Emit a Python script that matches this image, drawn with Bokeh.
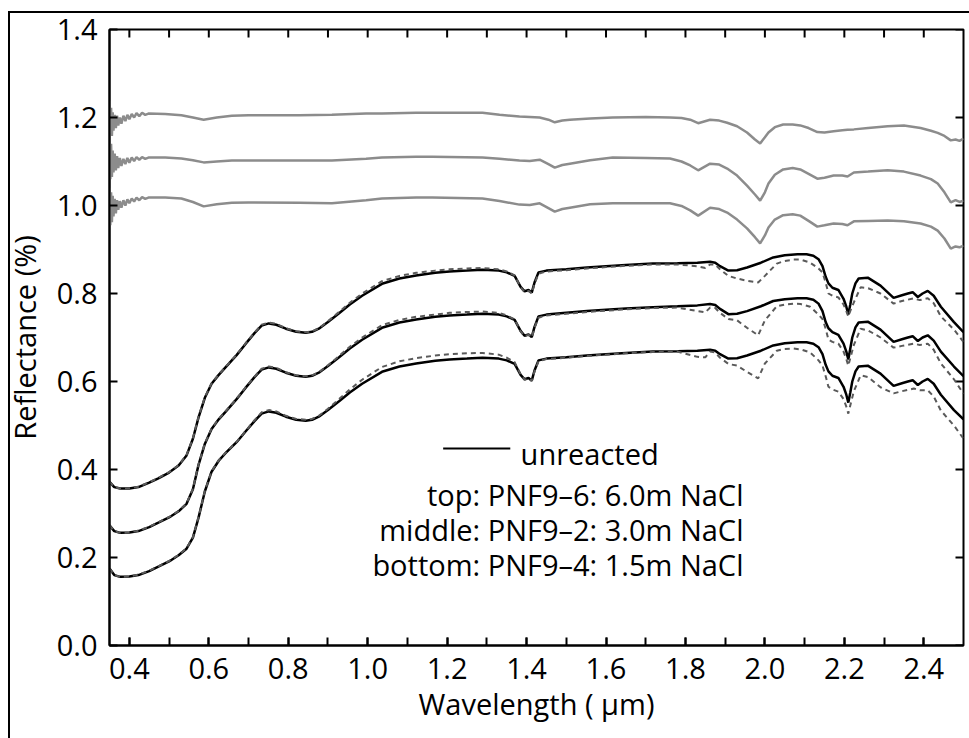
import math
from bokeh.plotting import figure
from bokeh.models import Range1d, FixedTicker, PrintfTickFormatter
from bokeh.core.properties import value
from bokeh.embed import file_html
from bokeh.resources import INLINE

FONT = "Open Sans"

# ---------------- data ----------------
x_unreacted = [0.350, 0.362, 0.377, 0.400, 0.423, 0.450, 0.473, 0.500, 0.524, 0.544,
               0.560, 0.574, 0.590, 0.607, 0.625, 0.642, 0.670, 0.693, 0.715, 0.733,
               0.751, 0.770, 0.794, 0.820, 0.844, 0.860, 0.877, 0.900, 0.928, 0.955,
               0.986, 1.036, 1.080, 1.122, 1.170, 1.206, 1.250, 1.289, 1.330, 1.350,
               1.370, 1.385, 1.395, 1.405, 1.413, 1.420, 1.430, 1.450, 1.500, 1.552,
               1.600, 1.650, 1.718, 1.780, 1.830, 1.862, 1.875, 1.887, 1.908, 1.930,
               1.955, 1.990, 2.021, 2.050, 2.082, 2.105, 2.122, 2.135, 2.145, 2.153,
               2.160, 2.170, 2.185, 2.198, 2.205, 2.210, 2.215, 2.220, 2.228, 2.236,
               2.259, 2.291, 2.324, 2.345, 2.360, 2.372, 2.385, 2.397, 2.410, 2.425,
               2.443, 2.476, 2.500]

unreacted_top = [0.372, 0.360, 0.357, 0.357, 0.360, 0.370, 0.380, 0.393, 0.409, 0.432,
                 0.470, 0.518, 0.563, 0.595, 0.615, 0.632, 0.660, 0.686, 0.710, 0.727,
                 0.732, 0.729, 0.720, 0.713, 0.711, 0.713, 0.720, 0.735, 0.755, 0.775,
                 0.795, 0.822, 0.834, 0.841, 0.847, 0.850, 0.852, 0.854, 0.852, 0.848,
                 0.840, 0.815, 0.805, 0.808, 0.802, 0.825, 0.848, 0.852, 0.855, 0.859,
                 0.862, 0.865, 0.868, 0.869, 0.870, 0.872, 0.870, 0.862, 0.852, 0.853,
                 0.859, 0.870, 0.882, 0.887, 0.889, 0.889, 0.886, 0.878, 0.862, 0.838,
                 0.823, 0.813, 0.808, 0.788, 0.770, 0.752, 0.775, 0.800, 0.823, 0.834,
                 0.836, 0.818, 0.790, 0.796, 0.800, 0.803, 0.792, 0.800, 0.806, 0.795,
                 0.770, 0.735, 0.712]

unreacted_mid = [0.273, 0.260, 0.256, 0.257, 0.260, 0.269, 0.279, 0.291, 0.305, 0.322,
                 0.355, 0.410, 0.458, 0.492, 0.514, 0.531, 0.560, 0.586, 0.610, 0.627,
                 0.632, 0.629, 0.620, 0.613, 0.611, 0.613, 0.620, 0.635, 0.655, 0.675,
                 0.695, 0.722, 0.734, 0.741, 0.747, 0.750, 0.752, 0.754, 0.752, 0.748,
                 0.740, 0.715, 0.704, 0.707, 0.701, 0.724, 0.748, 0.752, 0.756, 0.760,
                 0.763, 0.766, 0.769, 0.771, 0.773, 0.776, 0.774, 0.765, 0.753, 0.754,
                 0.760, 0.771, 0.783, 0.787, 0.789, 0.789, 0.786, 0.777, 0.760, 0.735,
                 0.721, 0.712, 0.706, 0.686, 0.668, 0.650, 0.675, 0.700, 0.723, 0.734,
                 0.736, 0.718, 0.690, 0.696, 0.700, 0.703, 0.692, 0.700, 0.705, 0.693,
                 0.668, 0.634, 0.612]

unreacted_bot = [0.175, 0.160, 0.156, 0.157, 0.160, 0.169, 0.179, 0.191, 0.205, 0.220,
                 0.245, 0.290, 0.350, 0.395, 0.420, 0.437, 0.462, 0.487, 0.510, 0.527,
                 0.532, 0.529, 0.520, 0.513, 0.511, 0.513, 0.520, 0.535, 0.555, 0.575,
                 0.595, 0.622, 0.634, 0.641, 0.647, 0.650, 0.652, 0.654, 0.652, 0.648,
                 0.640, 0.615, 0.605, 0.608, 0.602, 0.625, 0.648, 0.652, 0.655, 0.659,
                 0.662, 0.665, 0.668, 0.669, 0.670, 0.672, 0.670, 0.662, 0.652, 0.653,
                 0.659, 0.670, 0.682, 0.687, 0.689, 0.689, 0.686, 0.678, 0.662, 0.638,
                 0.623, 0.613, 0.608, 0.588, 0.570, 0.552, 0.575, 0.600, 0.623, 0.634,
                 0.636, 0.618, 0.590, 0.596, 0.600, 0.603, 0.592, 0.600, 0.606, 0.595,
                 0.570, 0.535, 0.514]

x_reacted = [0.350, 0.362, 0.377, 0.400, 0.423, 0.450, 0.473, 0.500, 0.524, 0.544,
             0.560, 0.574, 0.590, 0.607, 0.625, 0.642, 0.670, 0.693, 0.715, 0.733,
             0.751, 0.770, 0.794, 0.820, 0.844, 0.860, 0.877, 0.900, 0.928, 0.955,
             0.986, 1.036, 1.080, 1.122, 1.170, 1.206, 1.250, 1.289, 1.330, 1.350,
             1.370, 1.385, 1.395, 1.405, 1.413, 1.420, 1.430, 1.450, 1.500, 1.552,
             1.600, 1.650, 1.718, 1.780, 1.830, 1.850, 1.862, 1.875, 1.887, 1.908,
             1.930, 1.955, 1.983, 2.000, 2.030, 2.050, 2.072, 2.090, 2.114, 2.135,
             2.145, 2.153, 2.160, 2.170, 2.185, 2.198, 2.205, 2.210, 2.217, 2.224,
             2.241, 2.260, 2.291, 2.324, 2.345, 2.375, 2.390, 2.410, 2.425, 2.443,
             2.476, 2.500]

reacted_top = [0.372, 0.360, 0.357, 0.357, 0.361, 0.371, 0.381, 0.394, 0.410, 0.433,
               0.471, 0.519, 0.564, 0.596, 0.616, 0.633, 0.661, 0.687, 0.711, 0.729,
               0.734, 0.731, 0.721, 0.714, 0.712, 0.714, 0.721, 0.737, 0.758, 0.779,
               0.800, 0.828, 0.840, 0.847, 0.852, 0.855, 0.857, 0.858, 0.855, 0.850,
               0.841, 0.814, 0.803, 0.806, 0.800, 0.822, 0.845, 0.850, 0.853, 0.857,
               0.860, 0.863, 0.866, 0.866, 0.862, 0.858, 0.866, 0.866, 0.855, 0.840,
               0.834, 0.829, 0.825, 0.840, 0.868, 0.874, 0.877, 0.877, 0.870, 0.857,
               0.848, 0.825, 0.800, 0.795, 0.791, 0.775, 0.760, 0.748, 0.765, 0.780,
               0.814, 0.812, 0.800, 0.777, 0.783, 0.789, 0.785, 0.789, 0.778, 0.748,
               0.718, 0.690]

reacted_mid = [0.273, 0.260, 0.256, 0.257, 0.261, 0.270, 0.280, 0.292, 0.306, 0.323,
               0.356, 0.411, 0.459, 0.493, 0.515, 0.532, 0.561, 0.587, 0.611, 0.629,
               0.634, 0.631, 0.621, 0.614, 0.612, 0.614, 0.621, 0.637, 0.658, 0.679,
               0.700, 0.728, 0.740, 0.747, 0.752, 0.756, 0.758, 0.759, 0.756, 0.750,
               0.741, 0.714, 0.703, 0.706, 0.700, 0.722, 0.745, 0.750, 0.754, 0.758,
               0.761, 0.764, 0.767, 0.768, 0.760, 0.757, 0.768, 0.767, 0.756, 0.742,
               0.739, 0.722, 0.705, 0.739, 0.771, 0.775, 0.777, 0.776, 0.770, 0.752,
               0.742, 0.720, 0.695, 0.690, 0.686, 0.668, 0.651, 0.636, 0.660, 0.683,
               0.720, 0.716, 0.700, 0.677, 0.681, 0.686, 0.683, 0.686, 0.672, 0.641,
               0.605, 0.572]

reacted_bot = [0.175, 0.160, 0.156, 0.157, 0.161, 0.170, 0.180, 0.192, 0.206, 0.221,
               0.246, 0.291, 0.351, 0.396, 0.421, 0.438, 0.463, 0.488, 0.512, 0.530,
               0.535, 0.532, 0.522, 0.515, 0.513, 0.515, 0.522, 0.538, 0.560, 0.582,
               0.604, 0.633, 0.646, 0.653, 0.659, 0.662, 0.664, 0.665, 0.661, 0.654,
               0.644, 0.616, 0.604, 0.607, 0.601, 0.623, 0.646, 0.651, 0.654, 0.658,
               0.661, 0.664, 0.667, 0.668, 0.656, 0.655, 0.668, 0.666, 0.654, 0.640,
               0.636, 0.622, 0.607, 0.641, 0.670, 0.674, 0.675, 0.673, 0.666, 0.648,
               0.636, 0.612, 0.588, 0.582, 0.577, 0.560, 0.543, 0.527, 0.553, 0.578,
               0.614, 0.610, 0.587, 0.573, 0.578, 0.584, 0.580, 0.580, 0.566, 0.534,
               0.500, 0.470]

x_offset = [0.350, 0.352, 0.354, 0.356, 0.358, 0.360, 0.363, 0.366, 0.369, 0.372,
            0.376, 0.380, 0.385, 0.390, 0.395, 0.400, 0.406, 0.412, 0.418, 0.425,
            0.432, 0.440, 0.448,
            0.490, 0.531, 0.560, 0.587, 0.620, 0.658, 0.700, 0.827, 0.910, 0.996,
            1.036, 1.122, 1.163, 1.289, 1.332, 1.382, 1.408, 1.433, 1.455, 1.471,
            1.490, 1.509, 1.560, 1.617, 1.700, 1.761, 1.790, 1.812, 1.832, 1.862,
            1.885, 1.905, 1.930, 1.955, 1.975, 1.988, 2.000, 2.009, 2.025, 2.046,
            2.070, 2.089, 2.110, 2.132, 2.150, 2.173, 2.195, 2.208, 2.224, 2.260,
            2.309, 2.350, 2.392, 2.418, 2.435, 2.452, 2.468, 2.480, 2.490, 2.500]

offset_top = [1.238, 1.165, 1.222, 1.158, 1.212, 1.170, 1.206, 1.176, 1.204, 1.182,
              1.200, 1.186, 1.204, 1.192, 1.206, 1.196, 1.208, 1.200, 1.210, 1.203,
              1.211, 1.206, 1.209,
              1.208, 1.205, 1.200, 1.195, 1.200, 1.204, 1.205, 1.205, 1.206, 1.209,
              1.209, 1.211, 1.211, 1.211, 1.206, 1.202, 1.201, 1.200, 1.195, 1.189,
              1.193, 1.195, 1.198, 1.200, 1.201, 1.200, 1.199, 1.195, 1.187, 1.195,
              1.193, 1.188, 1.180, 1.166, 1.150, 1.141, 1.155, 1.166, 1.178, 1.184,
              1.184, 1.182, 1.176, 1.167, 1.166, 1.169, 1.171, 1.172, 1.173, 1.176,
              1.180, 1.182, 1.176, 1.170, 1.165, 1.158, 1.148, 1.150, 1.147, 1.152]

offset_mid = [1.160, 1.060, 1.140, 1.065, 1.125, 1.075, 1.118, 1.080, 1.112, 1.085,
              1.108, 1.090, 1.106, 1.094, 1.108, 1.097, 1.109, 1.101, 1.110, 1.104,
              1.110, 1.106, 1.109,
              1.109, 1.107, 1.103, 1.098, 1.100, 1.102, 1.102, 1.102, 1.102, 1.106,
              1.109, 1.111, 1.111, 1.109, 1.106, 1.102, 1.101, 1.104, 1.094, 1.086,
              1.092, 1.095, 1.103, 1.109, 1.108, 1.107, 1.100, 1.091, 1.080, 1.095,
              1.093, 1.084, 1.068, 1.045, 1.025, 1.011, 1.030, 1.050, 1.070, 1.082,
              1.085, 1.082, 1.072, 1.061, 1.063, 1.068, 1.068, 1.066, 1.075, 1.077,
              1.080, 1.077, 1.068, 1.060, 1.050, 1.030, 1.007, 1.012, 1.008, 1.011]

offset_bot = [1.040, 0.955, 1.030, 0.962, 1.022, 0.975, 1.015, 0.982, 1.012, 0.990,
              1.010, 0.995, 1.012, 1.000, 1.014, 1.005, 1.016, 1.009, 1.018, 1.012,
              1.019, 1.015, 1.018,
              1.018, 1.016, 1.008, 0.998, 1.003, 1.006, 1.007, 1.006, 1.005, 1.012,
              1.016, 1.018, 1.018, 1.016, 1.010, 1.002, 1.001, 1.005, 0.994, 0.986,
              0.992, 0.995, 1.003, 1.005, 1.005, 1.005, 0.999, 0.989, 0.977, 0.995,
              0.992, 0.984, 0.968, 0.948, 0.928, 0.914, 0.932, 0.950, 0.968, 0.978,
              0.980, 0.977, 0.965, 0.952, 0.955, 0.959, 0.958, 0.955, 0.964, 0.965,
              0.966, 0.964, 0.959, 0.952, 0.943, 0.925, 0.902, 0.907, 0.905, 0.909]

x_major_ticks = [0.4, 0.6, 0.8, 1.0, 1.2, 1.4, 1.6, 1.8, 2.0, 2.2, 2.4]
x_minor_ticks = [0.4, 0.5, 0.6, 0.7, 0.8, 0.9, 1.0, 1.1, 1.2, 1.3, 1.4, 1.5,
                 1.6, 1.7, 1.8, 1.9, 2.0, 2.1, 2.2, 2.3, 2.4]
y_ticks = [0.0, 0.2, 0.4, 0.6, 0.8, 1.0, 1.2, 1.4]

legend_lines = ["top: PNF9\u20136: 6.0m NaCl",
                "middle: PNF9\u20132: 3.0m NaCl",
                "bottom: PNF9\u20134: 1.5m NaCl"]
legend_key_label = "unreacted"

X_START, X_END = 0.35, 2.5
Y_START, Y_END = 0.0, 1.4

# ---------------- figure ----------------
p = figure(width=969, height=738, output_backend="svg", toolbar_location=None,
           x_range=Range1d(X_START, X_END), y_range=Range1d(Y_START, Y_END),
           min_border_left=109, min_border_right=6, min_border_top=29, min_border_bottom=93)
# page frame (black rule on the left and top, cut by the window on the right/bottom),
# drawn as inset shadows on the figure host behind a transparent canvas border
p.styles = {"box-shadow": "inset 8px 11px 0 0 white, inset 10px 13px 0 0 black"}
p.border_fill_color = None
p.grid.visible = False
p.outline_line_color = "black"
p.outline_line_width = 2
p.background_fill_color = "white"

def style_axis(ax):
    ax.axis_line_color = "black"
    ax.axis_line_width = 2
    ax.major_tick_in = 8
    ax.major_tick_out = 0
    ax.minor_tick_in = 8
    ax.minor_tick_out = 0
    ax.major_tick_line_width = 2
    ax.minor_tick_line_width = 2
    ax.major_tick_line_color = "black"
    ax.minor_tick_line_color = "black"
    ax.major_label_text_font = FONT
    ax.major_label_text_font_size = "29px"
    ax.major_label_text_color = "black"
    ax.axis_label_text_font = FONT
    ax.axis_label_text_font_size = "29px"
    ax.axis_label_text_font_style = "normal"
    ax.axis_label_text_color = "black"

xa = p.xaxis[0]
xa.ticker = FixedTicker(ticks=x_major_ticks, minor_ticks=x_minor_ticks)
xa.formatter = PrintfTickFormatter(format="%.1f")
xa.axis_label = "Wavelength ( \u03bcm)"
style_axis(xa)
xa.major_label_standoff = 12
xa.axis_label_standoff = 2

ya = p.yaxis[0]
ya.ticker = FixedTicker(ticks=y_ticks, minor_ticks=[])
ya.formatter = PrintfTickFormatter(format="%.1f")
ya.axis_label = "Reflectance (%)"
style_axis(ya)
ya.major_label_standoff = 12
ya.axis_label_standoff = 10

# inward ticks on the top and right frame edges (dash markers clipped by the frame)
p.scatter(x_minor_ticks, [Y_END] * len(x_minor_ticks), marker="dash", size=16,
          angle=math.pi / 2, line_color="black", line_width=2)
p.scatter([X_END] * len(y_ticks), y_ticks, marker="dash", size=16,
          line_color="black", line_width=2)

GRAY = "#8c8c8c"
DASH = "#5a5a5a"

for ys in (offset_top, offset_mid, offset_bot):
    p.line(x_offset, ys, line_color=GRAY, line_width=2.5)

for ys in (unreacted_top, unreacted_mid, unreacted_bot):
    p.line(x_unreacted, ys, line_color="black", line_width=2.5)

for ys in (reacted_top, reacted_mid, reacted_bot):
    p.line(x_reacted, ys, line_color=DASH, line_width=2, line_dash="5 4")

# ---------------- legend (text annotations) ----------------
p.line([1.19, 1.359], [0.448, 0.448], line_color="black", line_width=2)
p.text(x=[1.385], y=[0.436], text=[legend_key_label], text_font=value(FONT),
       text_font_size="29px", text_align="left", text_baseline="alphabetic", text_color="black")
p.text(x=[1.946, 1.946, 1.946], y=[0.343, 0.263, 0.184], text=legend_lines,
       text_font=value(FONT), text_font_size="29px", text_align="right",
       text_baseline="alphabetic", text_color="black")

open("out.html", "w").write(file_html(p, INLINE))
